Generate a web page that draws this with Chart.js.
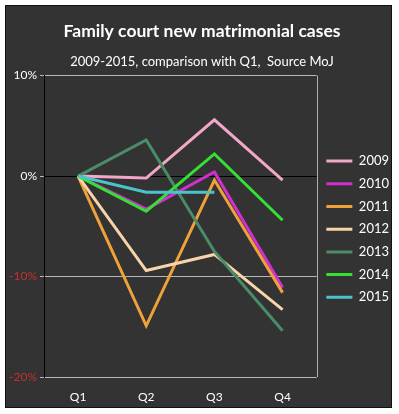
<!DOCTYPE html>
<html>
<head>
<meta charset="utf-8">
<script src="https://cdn.jsdelivr.net/npm/chart.js@4.4.0/dist/chart.umd.min.js"></script>
<style>
  html, body { margin: 0; padding: 0; background: #fff; }
  #wrap { width: 399px; height: 414px; }
</style>
</head>
<body>
<div id="wrap"><canvas id="grafico"></canvas></div>
<script>
// quarters and yearly series (% change vs Q1)
const quarters = ['Q1', 'Q2', 'Q3', 'Q4'];
const years = ['2009', '2010', '2011', '2012', '2013', '2014', '2015'];
const s2009 = [0, -0.2, 5.6, -0.4];
const s2010 = [0, -3.3, 0.4, -11.1];
const s2011 = [0, -14.9, -0.4, -11.6];
const s2012 = [0, -9.4, -7.8, -13.3];
const s2013 = [0, 3.6, -7.5, -15.4];
const s2014 = [0, -3.5, 2.2, -4.4];
const s2015 = [0, -1.6, -1.6, null];
const yTicks = [10, 0, -10, -20];

const series = [s2009, s2010, s2011, s2012, s2013, s2014, s2015];
const cores = ['#f2a7c9', '#d12fd1', '#f0a23a', '#f9d3aa', '#4a8c68', '#35e035', '#4cc3cc'];

// fundo escuro com moldura
const fundo = {
  id: 'fundo',
  beforeDraw(chart) {
    const ctx = chart.ctx;
    ctx.save();
    ctx.fillStyle = '#ffffff';
    ctx.fillRect(0, 0, chart.width, chart.height);
    ctx.fillStyle = '#333333';
    ctx.fillRect(5, 5, 387, 403);
    ctx.strokeStyle = '#111';
    ctx.lineWidth = 1;
    ctx.strokeRect(5.5, 5.5, 386, 402);
    ctx.restore();
  },
  beforeDatasetsDraw(chart) {
    const a = chart.chartArea;
    const ctx = chart.ctx;
    ctx.save();
    ctx.strokeStyle = '#b0b0b0';
    ctx.lineWidth = 1;
    ctx.beginPath();
    ctx.moveTo(Math.round(a.right) + 0.5, a.top);
    ctx.lineTo(Math.round(a.right) + 0.5, a.bottom);
    ctx.stroke();
    ctx.restore();
  }
};

const chart = new Chart(document.getElementById('grafico'), {
  type: 'line',
  data: {
    labels: quarters,
    datasets: years.map((ano, i) => ({
      label: ano,
      data: series[i],
      borderColor: cores[i],
      backgroundColor: cores[i],
      borderWidth: 3,
      pointRadius: 0,
      tension: 0,
      order: years.length - i
    }))
  },
  options: {
    responsive: true,
    maintainAspectRatio: false,
    animation: false,
    layout: { padding: { left: 5, right: 0, top: 0, bottom: 6 } },
    scales: {
      x: {
        offset: true,
        grid: { display: false, drawTicks: false },
        border: { display: false },
        ticks: { color: '#ffffff', font: { family: 'Lato', size: 12 }, padding: 13 },
        afterFit(scale) { scale.height = 31; }
      },
      y: {
        min: -20,
        max: 10,
        afterBuildTicks(scale) { scale.ticks = yTicks.map(v => ({ value: v })); },
        afterFit(scale) { scale.width = 39; },
        border: { color: '#000000', width: 1 },
        grid: {
          color: ctx => ctx.tick && ctx.tick.value === 0 ? '#000000' : '#b8b8b8',
          tickColor: '#b8b8b8',
          tickLength: 4
        },
        ticks: {
          font: { family: 'Lato', size: 12 },
          padding: 3,
          color: ctx => ctx.tick && ctx.tick.value < 0 ? '#c8302c' : '#ffffff',
          callback: v => v + '%'
        }
      }
    },
    plugins: {
      title: {
        display: true,
        text: 'Family court new matrimonial cases',
        color: '#ffffff',
        font: { family: 'Lato', size: 17.5, weight: 'bold' },
        padding: { top: 21, bottom: 0 }
      },
      subtitle: {
        display: true,
        text: '2009-2015, comparison with Q1,  Source MoJ',
        color: '#ffffff',
        font: { family: 'Lato', size: 13 },
        padding: { top: 12, bottom: 6 }
      },
      legend: {
        position: 'right',
        title: { display: true, text: ' ', font: { size: 12 }, padding: { top: 18, bottom: 18 } },
        labels: {
          color: '#ffffff',
          font: { family: 'Lato', size: 13 },
          boxWidth: 26,
          boxHeight: 3,
          padding: 9.7,
          sort: (a, b) => a.datasetIndex - b.datasetIndex,
          generateLabels(chart) {
            const itens = Chart.defaults.plugins.legend.labels.generateLabels(chart);
            itens.forEach(it => { it.lineWidth = 0; it.fillStyle = cores[it.datasetIndex]; });
            return itens;
          }
        }
      },
      tooltip: { enabled: false }
    }
  },
  plugins: [fundo]
});
</script>
</body>
</html>
